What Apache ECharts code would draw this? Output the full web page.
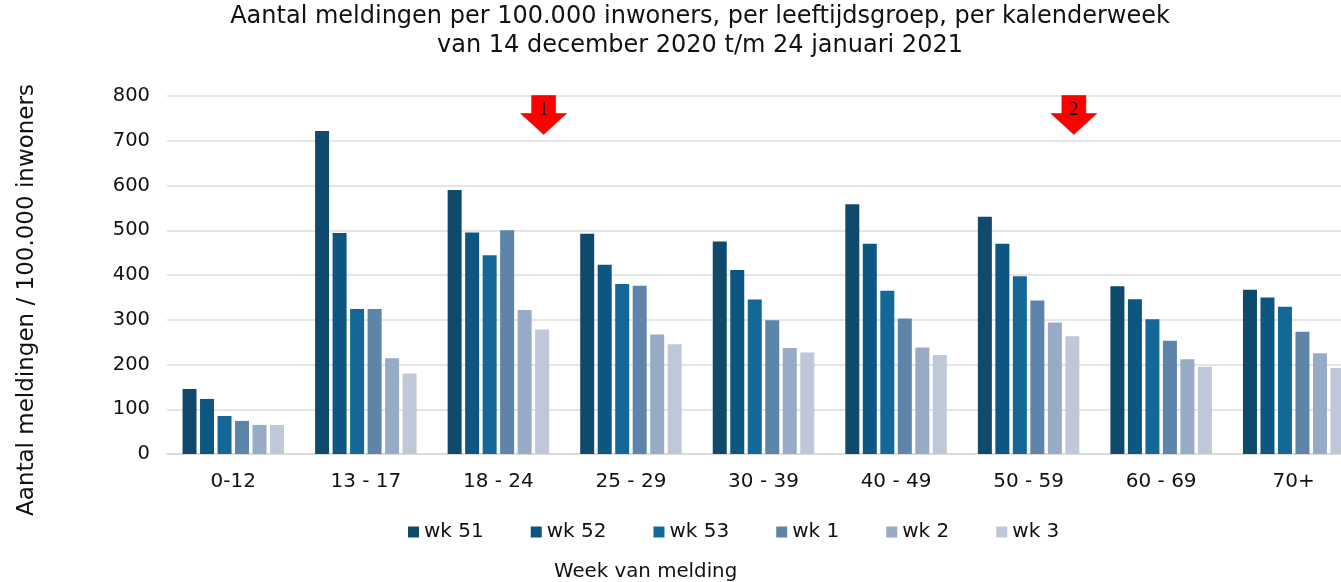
<!DOCTYPE html>
<html lang="nl">
<head>
  <meta charset="UTF-8">
  <title>meldingen per leeftijdsgroep</title>
  <script src="https://cdn.jsdelivr.net/npm/echarts@6/dist/echarts.min.js"></script>
  <style>
    *{
      margin:0;
      padding:0;
    }
    body{
      width: 1341px;
      height: 582px;
      overflow: hidden;
      background: #fff;
    }
    .container{
      width: 1360px;
      height: 582px;
    }
  </style>
</head>
<body>
  <div class="container"></div>

  <script type="text/javascript">
    var groepen = ['0-12', '13 - 17', '18 - 24', '25 - 29', '30 - 39', '40 - 49', '50 - 59', '60 - 69', '70+']
    var weken = ['wk 51', 'wk 52', 'wk 53', 'wk 1', 'wk 2', 'wk 3']
    var wk51 = [145, 722, 590, 492, 475, 558, 530, 375, 367]
    var wk52 = [123, 494, 495, 423, 411, 470, 470, 346, 350]
    var wk53 = [85, 324, 444, 380, 345, 365, 397, 301, 329]
    var wk1 = [74, 324, 500, 376, 299, 303, 343, 253, 273]
    var wk2 = [65, 214, 322, 267, 237, 238, 294, 212, 225]
    var wk3 = [65, 180, 278, 245, 227, 221, 263, 195, 192]
    var kleuren = ['#0f4a6c', '#0e5682', '#136898', '#5e84a9', '#97abc6', '#bec8d8']
    var pijlen = [
      { groep: '18 - 24', nr: '1' },
      { groep: '50 - 59', nr: '2' }
    ]

    var reeksen = [wk51, wk52, wk53, wk1, wk2, wk3]
    var font = 'DejaVu Sans'

    const mCharts = echarts.init(document.querySelector('.container'))

    var series = reeksen.map(function (d, i) {
      var s = {
        name: weken[i],
        type: 'bar',
        data: d,
        barWidth: 14,
        barGap: '25%',
        itemStyle: { color: kleuren[i] }
      }
      // rode pijlen hangen aan de eerste reeks (markPoint staat op de balk van wk 51)
      if (i === 0) {
        s.markPoint = {
          symbol: 'path://M11,0 L35,0 L35,18 L46,18 L23,39 L0,18 L11,18 Z',
          symbolSize: [46, 39],
          symbolOffset: [89, 19],
          itemStyle: { color: '#ff0000', borderColor: '#c00000', borderWidth: 0.5 },
          label: {
            show: true,
            color: '#111',
            fontFamily: 'Liberation Serif',
            fontSize: 19,
            offset: [0, -5],
            formatter: function (p) { return p.name }
          },
          data: pijlen.map(function (p) {
            return { name: p.nr, coord: [p.groep, 800] }
          })
        }
      }
      return s
    })

    var option = {
      animation: false,
      title: [
        {
          text: 'Aantal meldingen per 100.000 inwoners, per leeftijdsgroep, per kalenderweek\nvan 14 december 2020 t/m 24 januari 2021',
          left: 695,
          textAlign: 'center',
          top: -3,
          textStyle: {
            fontFamily: font,
            fontWeight: 'normal',
            fontSize: 24,
            lineHeight: 29,
            color: '#111'
          }
        },
        {
          text: 'Week van melding',
          left: 549,
          top: 557,
          textStyle: {
            fontFamily: font,
            fontWeight: 'normal',
            fontSize: 19.8,
            color: '#111'
          }
        }
      ],
      legend: {
        data: weken,
        left: 403,
        top: 517,
        itemWidth: 11,
        itemHeight: 11,
        itemGap: 47,
        icon: 'rect',
        textStyle: { fontFamily: font, fontSize: 20, color: '#111' }
      },
      grid: {
        left: 167,
        right: 0,
        top: 96,
        bottom: 128
      },
      xAxis: {
        type: 'category',
        data: groepen,
        axisTick: { show: false },
        axisLine: { lineStyle: { color: '#d9d9d9', width: 1.5 } },
        axisLabel: { margin: 18, fontFamily: font, fontSize: 20, color: '#111' }
      },
      yAxis: {
        type: 'value',
        min: 0,
        max: 800,
        interval: 100,
        name: 'Aantal meldingen / 100.000 inwoners',
        nameLocation: 'middle',
        nameGap: 128,
        nameTextStyle: { fontFamily: font, fontSize: 23, color: '#111', padding: [0, 50, 0, 0] },
        axisLabel: { margin: 17, fontFamily: font, fontSize: 19.5, color: '#111' },
        splitLine: { lineStyle: { color: '#dcdcdc', width: 1.5 } }
      },
      series: series
    }
    mCharts.setOption(option)
  </script>
</body>
</html>
